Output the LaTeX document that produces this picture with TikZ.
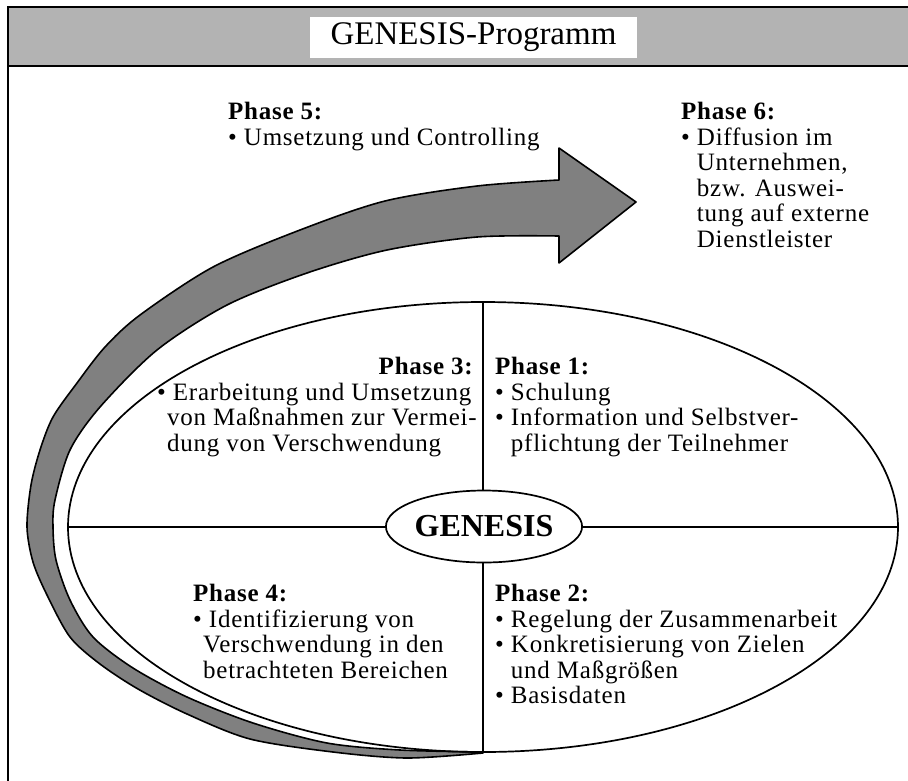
\documentclass[tikz,border=0pt]{standalone}
\usepackage{fontspec}
\setmainfont{Liberation Serif}
\newfontfamily\phasefont{Liberation Serif}[LetterSpace=3]
\usetikzlibrary{shapes.geometric}
\definecolor{bargray}{RGB}{179,179,179}
\definecolor{arrowgray}{RGB}{128,128,128}
\begin{document}
\begin{tikzpicture}[x=1pt,y=-1pt,
  txt/.style={font=\phasefont\fontsize{25}{25.5}\selectfont, inner sep=0pt, align=left, anchor=north west},
  hdr/.style={font=\phasefont\fontsize{25}{25.5}\selectfont\bfseries, inner sep=0pt, anchor=base east},
  bigarrow/.style={fill=arrowgray, draw=black, line width=1.6pt, line join=round},
  ovalline/.style={draw=black, line width=1.7pt}]
\useasboundingbox (0,0) rectangle (908,780);
% frame and title bar
\fill[bargray] (8,7) rectangle (915,66);
\draw[line width=2.4pt] (8,7) rectangle (915,800);
\draw[line width=2.4pt] (8,66) -- (915,66);
\node[fill=white, minimum width=327pt, minimum height=41pt, inner sep=0pt,
  font=\fontsize{33}{33}\selectfont] (title) at (473.5,37.5) {GENESIS-Programm};
% big curved arrow
\filldraw[bigarrow] plot[smooth] coordinates {(483,753) (407,758) (333,752) (250,739) (187,714) (138,689) (100,664) (70,637) (47,595) (33,562) (27,527) (31,485) (40,450) (53,417) (77,383) (105,347) (140,315) (213,267) (300,230) (385,201) (477,186) (559,180)}
  -- (559,148) -- (636,202) -- (559,263) -- (559,236)
  -- plot[smooth] coordinates {(559,236) (477,237) (387,250) (307,273) (227,305) (157,350) (100,407) (70,450) (55,500) (53,527) (56,560) (70,600) (93,637) (133,668) (187,697) (253,723) (327,743) (400,750) (483,752)} -- cycle;
% ellipse and cross lines
\coordinate (c) at (483,527);
\draw[ovalline] (c) ellipse [x radius=415, y radius=225];
\coordinate (etop) at (483,302);
\coordinate (ebot) at (483,752);
\coordinate (eleft) at (68,527);
\coordinate (eright) at (898,527);
\draw[ovalline] (etop) -- (ebot);
\draw[ovalline] (eleft) -- (eright);
\node[ellipse, draw, line width=1.7pt, fill=white, minimum width=148pt, minimum height=72pt, inner sep=0pt,
  font=\fontsize{32}{32}\selectfont\bfseries] (genesis) at (484,526.5) {GENESIS};
% texts
\node[txt] (p5) at (228,102) {\textbf{Phase 5:}\\\textbullet\ Umsetzung und Controlling};
\node[txt] (p6) at (681,102) {\textbf{Phase 6:}\\\textbullet\ Diffusion im\\\hphantom{\textbullet\ }Unternehmen,\\\hphantom{\textbullet\ }bzw. Auswei-\\\hphantom{\textbullet\ }tung auf externe\\\hphantom{\textbullet\ }Dienstleister};
\node[hdr] (p3h) at (473,374) {Phase 3:};
\node[txt] (p3) at (157,382.5) {\textbullet\ Erarbeitung und Umsetzung\\\hspace*{10pt}von Maßnahmen zur Vermei-\\\hspace*{10pt}dung von Verschwendung};
\node[txt] (p1) at (495,357) {\textbf{Phase 1:}\\\textbullet\ Schulung\\\textbullet\ Information und Selbstver-\\\hphantom{\textbullet\ }pflichtung der Teilnehmer};
\node[txt] (p4) at (193,584) {\textbf{Phase 4:}\\\textbullet\ Identifizierung von\\\hspace*{10pt}Verschwendung in den\\\hspace*{10pt}betrachteten Bereichen};
\node[txt] (p2) at (495,584) {\textbf{Phase 2:}\\\textbullet\ Regelung der Zusammenarbeit\\\textbullet\ Konkretisierung von Zielen\\\hphantom{\textbullet\ }und Maßgrößen\\\textbullet\ Basisdaten};
\end{tikzpicture}
\end{document}
